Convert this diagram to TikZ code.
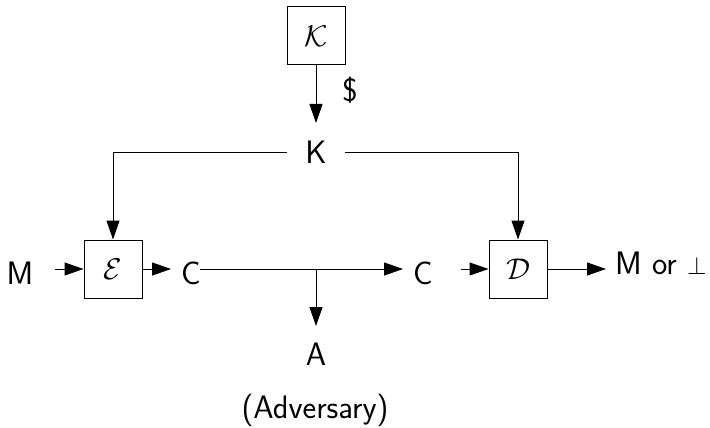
\RequirePackage{fix-cm}
\documentclass[tikz,border=0pt]{standalone}
\usetikzlibrary{arrows.meta}
\begin{document}
\begin{tikzpicture}[x=1pt,y=-1pt,
  lbl/.style={font=\sffamily\fontsize{32.5}{36}\selectfont, inner sep=0pt},
  box/.style={draw, line width=1pt, minimum width=58pt, minimum height=58pt, inner sep=0pt, font=\fontsize{30}{34}\selectfont},
  arr/.style={line width=1pt, -{Triangle[length=19pt,width=13pt]}},
  ln/.style={line width=1pt}]
\useasboundingbox (0,0) rectangle (710,428);
\node[box] (Kb) at (316,36) {$\mathcal{K}$};
\node[lbl] (K) at (316,152) {K};
\node[lbl] (dollar) at (350,90) {\$};
\node[box] (E) at (113,269) {$\mathcal{E}$};
\node[box] (D) at (518,269) {$\mathcal{D}$};
\node[lbl] (M) at (20,273) {M};
\node[lbl] (C1) at (191,273) {C};
\node[lbl] (C2) at (423,273) {C};
\node[lbl] (A) at (316,354) {A};
\node[lbl] (Adv) at (315,410) {(Adversary)};
\node[lbl, anchor=west] (Mout) at (615,263) {M or {\fontsize{25}{30}\selectfont$\perp$}};
\coordinate (J) at (316,269);
\coordinate (KL) at (113,152);
\coordinate (KR) at (518,152);
\coordinate (Lend) at (287,152);
\coordinate (Rend) at (345,152);
\draw[arr] (Kb.south) -- (316,123);
\draw[ln] (Lend) -- (KL);
\draw[arr] (KL) -- (E.north);
\draw[ln] (Rend) -- (KR);
\draw[arr] (KR) -- (D.north);
\draw[arr] (55,269) -- (E.west);
\draw[arr] (E.east) -- (171,269);
\draw[arr] (200,269) -- (403,269);
\draw[arr] (J) -- (316,326);
\draw[arr] (461,269) -- (D.west);
\draw[arr] (D.east) -- (606,269);
\end{tikzpicture}
\end{document}
